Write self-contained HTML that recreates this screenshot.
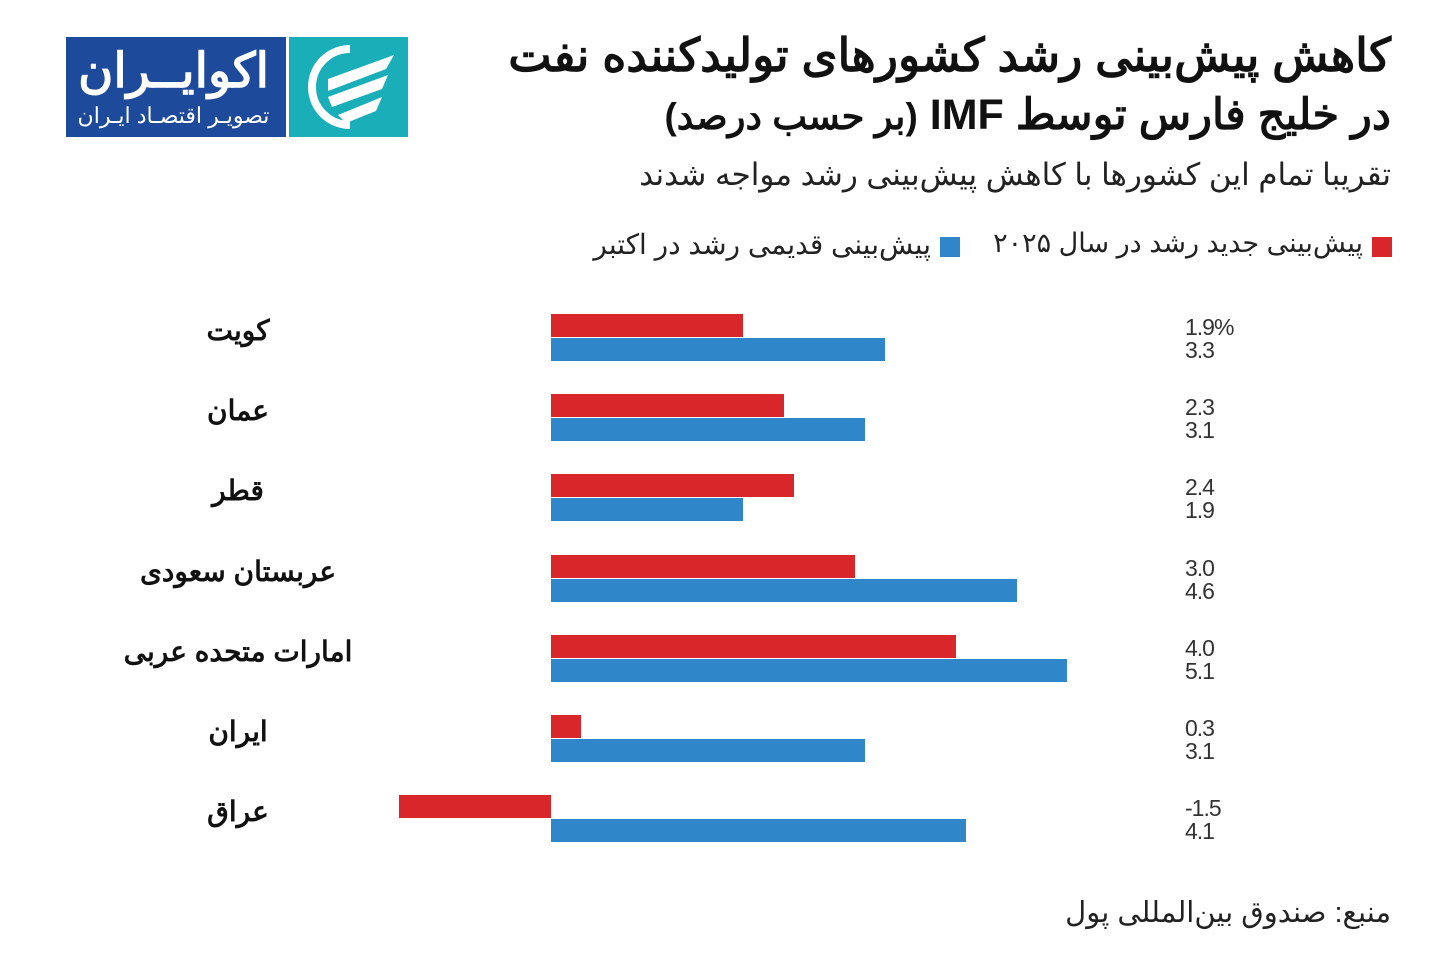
<!DOCTYPE html>
<html><head><meta charset="utf-8"><style>
body{margin:0;background:#fff;width:1445px;height:972px;position:relative;overflow:hidden;font-family:"Liberation Sans","Noto Sans CJK SC",sans-serif;}
.t{position:absolute;white-space:nowrap;color:#111;}
.r{right:54px;direction:rtl;text-align:right;}
</style></head><body>
<div style="position:absolute;left:66px;top:37px;width:342px;height:100px;background:#1aaeb8;">
 <div style="position:absolute;left:0;top:0;width:220px;height:100px;background:#1e4a9c;border-right:3px solid #fff;">
  <div class="t" style="left:0;width:215px;text-align:center;top:6px;color:#fff;font-weight:bold;font-size:48px;direction:rtl;">اکوایــران</div>
  <div class="t" style="left:0;width:215px;text-align:center;top:66px;color:#fff;font-size:22px;direction:rtl;">تصویـر اقتصـاد ایـران</div>
 </div>
 <svg style="position:absolute;left:232px;top:6px" width="104" height="88" viewBox="0 0 104 88">
  <path d="M52 6 A38 38 0 1 0 52 82" fill="none" stroke="#fff" stroke-width="8"/>
  <path d="M30 36 L96 12 L88 26 L30 48 Z" fill="#fff"/>
  <path d="M30 54 L90 32 L84 46 L34 64 Z" fill="#fff"/>
  <path d="M40 72 L84 54 L78 68 L48 80 Z" fill="#fff"/>
 </svg>
</div>
<div class="t r" style="top:28px;font-size:46px;font-weight:bold;">کاهش پیش‌بینی رشد کشورهای تولیدکننده نفت</div>
<div class="t r" style="top:90px;font-size:43px;font-weight:bold;">در خلیج فارس توسط IMF <span style="font-size:37px">(بر حسب درصد)</span></div>
<div class="t r" style="top:157px;font-size:31px;color:#222;">تقریبا تمام این کشورها با کاهش پیش‌بینی رشد مواجه شدند</div>
<div style="position:absolute;left:1372px;top:237px;width:20px;height:20px;background:#d9262b"></div>
<div class="t" style="right:82px;top:228px;font-size:27px;direction:rtl;color:#222;">پیش‌بینی جدید رشد در سال ۲۰۲۵</div>
<div style="position:absolute;left:940px;top:237px;width:20px;height:20px;background:#2f86c9"></div>
<div class="t" style="right:514px;top:228px;font-size:28px;direction:rtl;color:#222;">پیش‌بینی قدیمی رشد در اکتبر</div>
<div id="chart"></div>
<div class="t r" style="top:895px;font-size:29px;color:#222;">منبع: صندوق بین‌المللی پول</div>
<script>
const countries=["کویت","عمان","قطر","عربستان سعودی","امارات متحده عربی","ایران","عراق"];
const newForecast=[1.9,2.3,2.4,3.0,4.0,0.3,-1.5];
const oldForecast=[3.3,3.1,1.9,4.6,5.1,3.1,4.1];
const newLabels=["1.9%","2.3","2.4","3.0","4.0","0.3","-1.5"];
const oldLabels=["3.3","3.1","1.9","4.6","5.1","3.1","4.1"];
const x0=551,k=101.2,top0=314,step=80.2,bh=23;
const X=v=>x0+v*k;
const c=document.getElementById('chart');
function box(css,name){const d=document.createElement('div');d.style.cssText='position:absolute;'+css;


c.appendChild(d);return d;}
countries.forEach((n,i)=>{
 const y=top0+i*step;
 const a=Math.min(X(0),X(newForecast[i])),w=Math.abs(X(newForecast[i])-X(0));
 box(`left:${a}px;top:${y}px;width:${w}px;height:${bh}px;background:#d9262b`,'bar-new-'+i);
 const b=Math.min(X(0),X(oldForecast[i])),w2=Math.abs(X(oldForecast[i])-X(0));
 box(`left:${b}px;top:${y+bh+1}px;width:${w2}px;height:${bh}px;background:#2f86c9`,'bar-old-'+i);
 const l=box(`left:88px;width:300px;text-align:center;top:${y}px;font-size:28px;font-weight:bold;direction:rtl;color:#111;white-space:nowrap`,'country-label-'+i);l.textContent=n;
 const v1=box(`left:1185px;top:${y}px;font-size:23px;color:#333;letter-spacing:-1px`,'value-new-'+i);v1.textContent=newLabels[i];
 const v2=box(`left:1185px;top:${y+23}px;font-size:23px;color:#333;letter-spacing:-1px`,'value-old-'+i);v2.textContent=oldLabels[i];
});
</script>
</body></html>
